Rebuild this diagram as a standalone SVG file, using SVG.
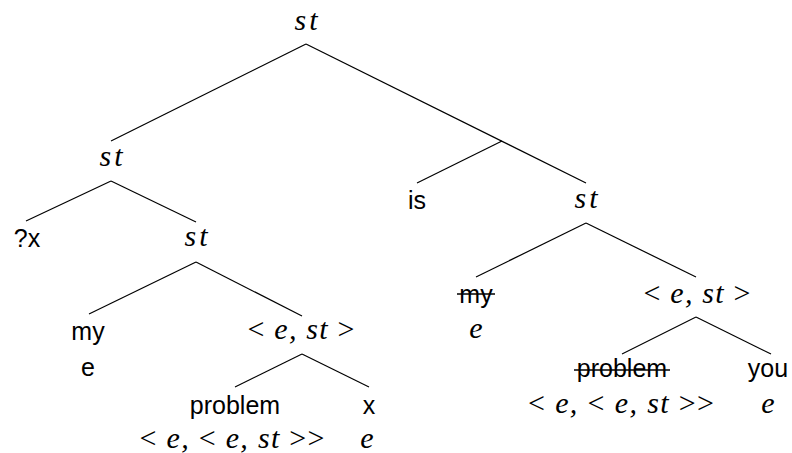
<svg xmlns="http://www.w3.org/2000/svg" width="792" height="453" viewBox="0 0 792 453">
<style>
.sans{font-family:"Liberation Sans",Arial,sans-serif;font-size:25px;fill:#000;text-anchor:middle}
.math{font-family:"Liberation Serif","Times New Roman",serif;font-size:30px;font-style:italic;fill:#000;text-anchor:middle}
.up{font-style:normal}
.edge{stroke:#000;stroke-width:1.2;fill:none;stroke-linecap:butt}
.strike{stroke:#000;stroke-width:1.6}
</style>
<rect width="792" height="453" fill="#fff"/>
<g id="connectors">
<line class="edge" x1="306" y1="44" x2="111" y2="141"/>
<line class="edge" x1="306" y1="44" x2="586" y2="183"/>
<line class="edge" x1="502" y1="141" x2="417" y2="183"/>
<line class="edge" x1="111" y1="181" x2="26" y2="221"/>
<line class="edge" x1="111" y1="181" x2="196" y2="222"/>
<line class="edge" x1="196" y1="262" x2="89" y2="314"/>
<line class="edge" x1="196" y1="262" x2="302" y2="316"/>
<line class="edge" x1="302" y1="354" x2="235" y2="387"/>
<line class="edge" x1="302" y1="354" x2="369" y2="387"/>
<line class="edge" x1="586" y1="223" x2="476" y2="277"/>
<line class="edge" x1="586" y1="223" x2="696" y2="277"/>
<line class="edge" x1="696" y1="317" x2="622" y2="354"/>
<line class="edge" x1="696" y1="317" x2="771" y2="354"/>
</g>
<g id="root"><text class="math" x="306" y="30" textLength="23" lengthAdjust="spacing">st</text></g>
<g id="st-left"><text class="math" x="111" y="166" textLength="23" lengthAdjust="spacing">st</text></g>
<g id="qx"><text class="sans" x="27" y="247">?x</text></g>
<g id="st-inner"><text class="math" x="196" y="246" textLength="23" lengthAdjust="spacing">st</text></g>
<g id="is"><text class="sans" x="417" y="209">is</text></g>
<g id="st-right"><text class="math" x="586" y="208" textLength="23" lengthAdjust="spacing">st</text></g>
<g id="my-left">
<text class="sans" x="88" y="340">my</text>
<text class="sans" x="88" y="376">e</text>
</g>
<g id="est-left"><text class="math" x="301" y="339" textLength="107" lengthAdjust="spacing"><tspan class="up">&lt;</tspan> e, st <tspan class="up">&gt;</tspan></text></g>
<g id="problem-left">
<text class="sans" x="235" y="414">problem</text>
<text class="math" x="232" y="448" textLength="185" lengthAdjust="spacing"><tspan class="up">&lt;</tspan> e, <tspan class="up">&lt;</tspan> e, st <tspan class="up">&gt;&gt;</tspan></text>
</g>
<g id="x-left">
<text class="sans" x="369" y="414">x</text>
<text class="math" x="367" y="448">e</text>
</g>
<g id="my-right">
<text class="sans" x="476" y="303">my</text>
<line class="strike" x1="457" y1="294" x2="495" y2="294"/>
<text class="math" x="476" y="338">e</text>
</g>
<g id="est-right"><text class="math" x="697" y="303" textLength="107" lengthAdjust="spacing"><tspan class="up">&lt;</tspan> e, st <tspan class="up">&gt;</tspan></text></g>
<g id="problem-right">
<text class="sans" x="622" y="377">problem</text>
<line class="strike" x1="574" y1="370" x2="670" y2="370"/>
<text class="math" x="621" y="413" textLength="186" lengthAdjust="spacing"><tspan class="up">&lt;</tspan> e, <tspan class="up">&lt;</tspan> e, st <tspan class="up">&gt;&gt;</tspan></text>
</g>
<g id="you">
<text class="sans" x="768" y="377">you</text>
<text class="math" x="768" y="413">e</text>
</g>
</svg>
